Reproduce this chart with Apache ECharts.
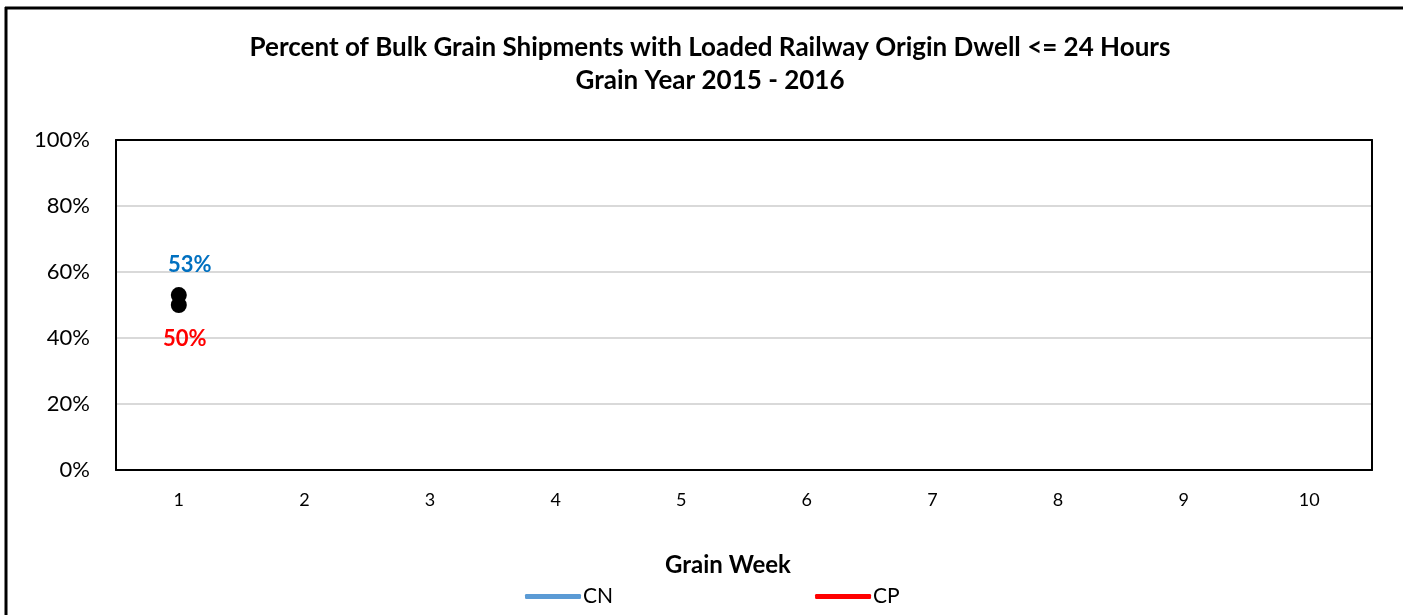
<!DOCTYPE html>
<html>
<head>
<meta charset="utf-8">
<script src="https://cdn.jsdelivr.net/npm/echarts@6/dist/echarts.min.js"></script>
<style>
  html, body { margin: 0; padding: 0; background: #fff; overflow: hidden; }
  #chart { width: 1403px; height: 615px; }
</style>
</head>
<body>
<div id="chart"></div>
<script>
// grain weeks on the x axis
const weeks = ['1', '2', '3', '4', '5', '6', '7', '8', '9', '10']
// percent of shipments with dwell <= 24h, only week 1 reported so far
const cnValues = [53, null, null, null, null, null, null, null, null, null]
const cpValues = [50, null, null, null, null, null, null, null, null, null]
const yTicks = [0, 20, 40, 60, 80, 100]

const fontFam = 'Lato, "Open Sans", sans-serif'

let chart = echarts.init(document.getElementById('chart'))
let option = {
    animation: false,
    backgroundColor: '#fff',
    textStyle: { fontFamily: fontFam },
    title: {
        text: 'Percent of Bulk Grain Shipments with Loaded Railway Origin Dwell <= 24 Hours\nGrain Year 2015 - 2016',
        left: 705,
        textAlign: 'center',
        top: 26,
        textStyle: {
            fontFamily: fontFam,
            fontSize: 26,
            fontWeight: 'bold',
            color: '#000',
            lineHeight: 33
        }
    },
    graphic: [
        // outer chart frame, only left and top edges are inside the picture
        {
            type: 'line',
            shape: { x1: 6, y1: 7, x2: 6, y2: 640 },
            style: { stroke: '#000', lineWidth: 3 },
            silent: true
        },
        {
            type: 'line',
            shape: { x1: 5, y1: 8, x2: 1420, y2: 8 },
            style: { stroke: '#000', lineWidth: 3 },
            silent: true
        }
    ],
    legend: {
        data: [
            { name: 'CN', itemStyle: { color: '#5b9bd5' } },
            { name: 'CP', itemStyle: { color: '#ff0000' } }
        ],
        icon: 'roundRect',
        itemWidth: 56,
        itemHeight: 5,
        itemGap: 202,
        left: 520,
        top: 581,
        textStyle: { fontFamily: fontFam, fontSize: 21, color: '#000', padding: [0, 0, 0, -3] }
    },
    grid: {
        left: 116,
        right: 31,
        top: 140,
        bottom: 145
    },
    xAxis: [
        {
            type: 'category',
            data: weeks,
            boundaryGap: true,
            name: 'Grain Week',
            nameLocation: 'middle',
            nameGap: 83,
            nameTextStyle: {
                fontFamily: fontFam, fontSize: 24, fontWeight: 'bold', color: '#000',
                padding: [0, 32, 0, 0]
            },
            axisLine: { lineStyle: { color: '#000', width: 2 } },
            axisTick: { show: false },
            axisLabel: { fontFamily: fontFam, fontSize: 18, color: '#000', margin: 21 }
        },
        {
            // top edge of the plot frame
            type: 'category',
            data: weeks,
            position: 'top',
            z: 5,
            axisLine: { show: true, onZero: false, lineStyle: { color: '#000', width: 2 } },
            axisTick: { show: false },
            axisLabel: { show: false },
            splitLine: { show: false }
        }
    ],
    yAxis: [
        {
            type: 'value',
            min: yTicks[0],
            max: yTicks[yTicks.length - 1],
            interval: 20,
            axisLine: { show: true, lineStyle: { color: '#000', width: 2 } },
            axisTick: { show: false },
            axisLabel: {
                fontFamily: fontFam,
                fontSize: 22,
                color: '#000',
                margin: 26,
                formatter: v => v + '%'
            },
            splitLine: { showMaxLine: false, lineStyle: { color: '#d9d9d9', width: 2 } }
        },
        {
            // right edge of the plot frame
            type: 'value',
            min: yTicks[0],
            max: yTicks[yTicks.length - 1],
            interval: 20,
            position: 'right',
            axisLine: { show: true, onZero: false, lineStyle: { color: '#000', width: 2 } },
            axisTick: { show: false },
            axisLabel: { show: false },
            splitLine: { show: false }
        }
    ],
    series: [
        {
            name: 'CN',
            type: 'line',
            data: cnValues,
            color: '#5b9bd5',
            lineStyle: { color: '#5b9bd5', width: 4 },
            symbol: 'circle',
            symbolSize: 16,
            showAllSymbol: true,
            itemStyle: { color: '#000' },
            label: {
                show: true,
                position: 'top',
                distance: 11,
                offset: [11, 0],
                formatter: p => p.value + '%',
                color: '#0070c0',
                fontFamily: fontFam,
                fontSize: 22,
                fontWeight: 'bold'
            },
            z: 3
        },
        {
            name: 'CP',
            type: 'line',
            data: cpValues,
            color: '#ff0000',
            lineStyle: { color: '#ff0000', width: 4 },
            symbol: 'circle',
            symbolSize: 16,
            showAllSymbol: true,
            itemStyle: { color: '#000' },
            label: {
                show: true,
                position: 'bottom',
                distance: 15,
                offset: [6, 0],
                formatter: p => p.value + '%',
                color: '#ff0000',
                fontFamily: fontFam,
                fontSize: 22,
                fontWeight: 'bold'
            },
            z: 3
        }
    ]
}
chart.setOption(option)
</script>
</body>
</html>
